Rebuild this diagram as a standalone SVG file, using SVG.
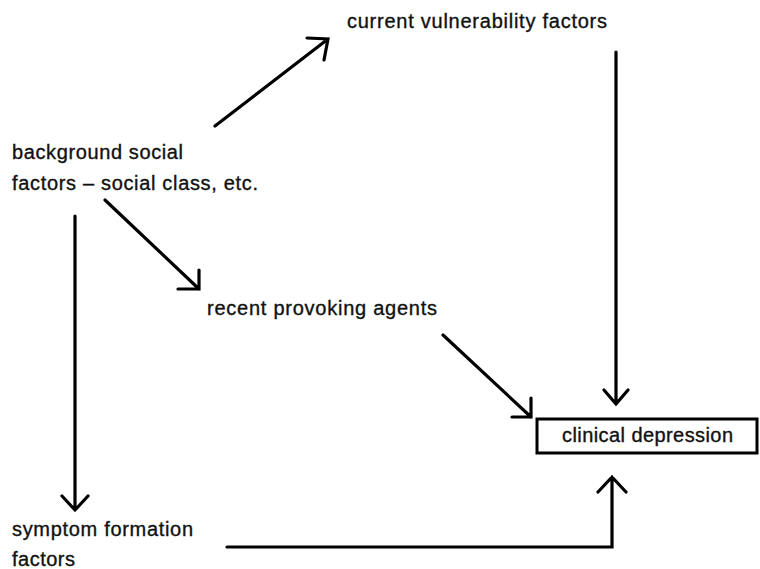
<svg xmlns="http://www.w3.org/2000/svg" width="760" height="569" viewBox="0 0 760 569">
<style>
text{font-family:"Liberation Sans",Arial,sans-serif;font-size:20px;fill:#111;stroke:#111;stroke-width:0.35;}
.c{fill:none;stroke:#000;stroke-width:3.2;stroke-linecap:round;stroke-linejoin:miter;}
</style>
<rect width="760" height="569" fill="#fff"/>
<g id="current"><text x="347" y="28" textLength="260" lengthAdjust="spacing">current vulnerability factors</text></g>
<g id="background"><text x="12" y="159" textLength="171" lengthAdjust="spacing">background social</text><text x="12" y="190" textLength="246" lengthAdjust="spacing">factors – social class, etc.</text></g>
<g id="recent"><text x="207" y="315" textLength="230" lengthAdjust="spacing">recent provoking agents</text></g>
<g id="clinical"><rect x="537" y="419" width="220" height="34" fill="none" stroke="#000" stroke-width="3"/><text x="562" y="442" textLength="171" lengthAdjust="spacing">clinical depression</text></g>
<g id="symptom"><text x="12" y="536" textLength="181" lengthAdjust="spacing">symptom formation</text><text x="12" y="566" textLength="63" lengthAdjust="spacing">factors</text></g>
<g id="connectors">
<path class="c" d="M215,126 L328,39 M307,38 L328,39 L324,60"/>
<path class="c" d="M616,52 L616,404 M604,390 L616,404 L628,390"/>
<path class="c" d="M443,335 L531,417 M512,417 L531,417 L531,398"/>
<path class="c" d="M105,200 L199,289 M178,289 L199,289 L199,270"/>
<path class="c" d="M75,216 L75,510 M62,496 L75,510 L88,496"/>
<path class="c" d="M227,547 L612,547 L612,477 M598,492 L612,477 L626,492"/>
</g>
</svg>
